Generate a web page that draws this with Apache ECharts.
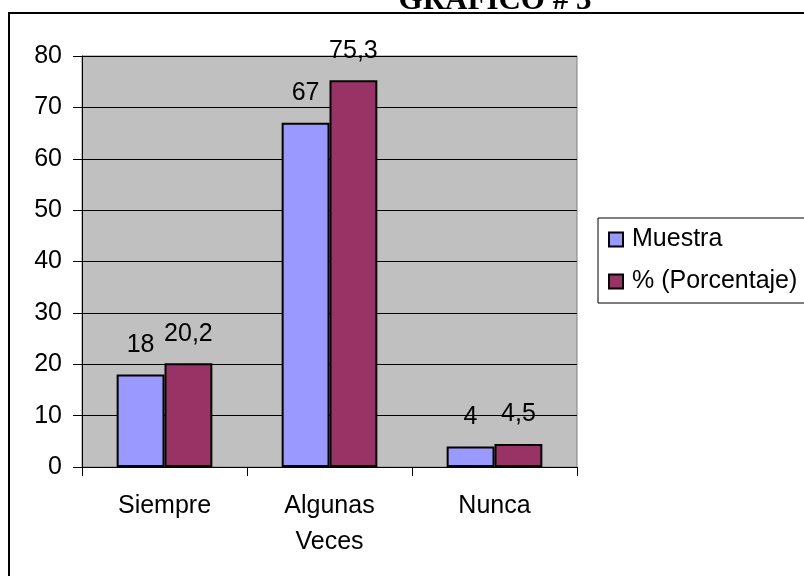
<!DOCTYPE html>
<html>
<head>
<meta charset="utf-8">
<script src="https://cdn.jsdelivr.net/npm/echarts@6/dist/echarts.min.js"></script>
<style>html,body{margin:0;padding:0;background:#fff}#c{width:804px;height:576px}</style>
</head>
<body>
<div id="c"></div>
<script>
var categories = ['Siempre', 'Algunas\nVeces', 'Nunca'];
var muestra = [18, 67, 4];
var porcentaje = [20.2, 75.3, 4.5];
var seriesNames = ['Muestra', '% (Porcentaje)'];
var titleText = 'GRÁFICO # 3';

var chart = echarts.init(document.getElementById('c'), null, {renderer: 'canvas'});
var font = 'Liberation Sans, Arial, sans-serif';
function fmt(p) { return String(p.value).replace('.', ','); }
var labelCfg = {show: true, position: 'top', distance: 17, color: '#000', fontSize: 25, fontFamily: font, formatter: fmt};

chart.setOption({
  animation: false,
  backgroundColor: '#fff',
  graphic: [
    {type: 'rect', shape: {x: 9, y: 13, width: 900, height: 700}, style: {fill: 'none', stroke: '#000', lineWidth: 2}, z: 0},
    {type: 'text', x: 495, y: 16, style: {text: titleText, fill: '#000', font: 'bold 31px "Liberation Serif", "Times New Roman", serif', textAlign: 'center', textVerticalAlign: 'bottom'}, z: 10}
  ],
  grid: {left: 82, right: 227, top: 56, bottom: 109, show: true, backgroundColor: '#C0C0C0', borderColor: '#808080', borderWidth: 1},
  legend: {
    orient: 'vertical', left: 598, top: 218, data: seriesNames, icon: 'rect',
    borderColor: '#000', borderWidth: 1, padding: [9, 20, 9, 10],
    itemWidth: 14, itemHeight: 14, itemGap: 17,
    textStyle: {fontSize: 25, fontFamily: font, color: '#000', padding: [0, 0, 0, 4]}
  },
  xAxis: {
    type: 'category', data: categories,
    axisLine: {lineStyle: {color: '#000', width: 1}},
    axisTick: {show: true, length: 9, lineStyle: {color: '#000'}},
    axisLabel: {fontSize: 25, fontFamily: font, color: '#000', margin: 21, lineHeight: 36},
    splitLine: {show: false}
  },
  yAxis: {
    type: 'value', min: 0, max: 80, interval: 10,
    axisLine: {show: true, lineStyle: {color: '#000', width: 1}},
    axisTick: {show: true, length: 9, lineStyle: {color: '#000'}},
    axisLabel: {fontSize: 25, fontFamily: font, color: '#000', margin: 20},
    splitLine: {show: true, lineStyle: {color: '#000', width: 1}}
  },
  series: [
    {name: seriesNames[0], type: 'bar', data: muestra, barGap: '0%', barCategoryGap: '42%',
     itemStyle: {color: '#9999FF', borderColor: '#000', borderWidth: 2}, label: labelCfg},
    {name: seriesNames[1], type: 'bar', data: porcentaje, barGap: '0%', barCategoryGap: '42%',
     itemStyle: {color: '#993366', borderColor: '#000', borderWidth: 2}, label: labelCfg}
  ]
});
</script>
</body>
</html>
